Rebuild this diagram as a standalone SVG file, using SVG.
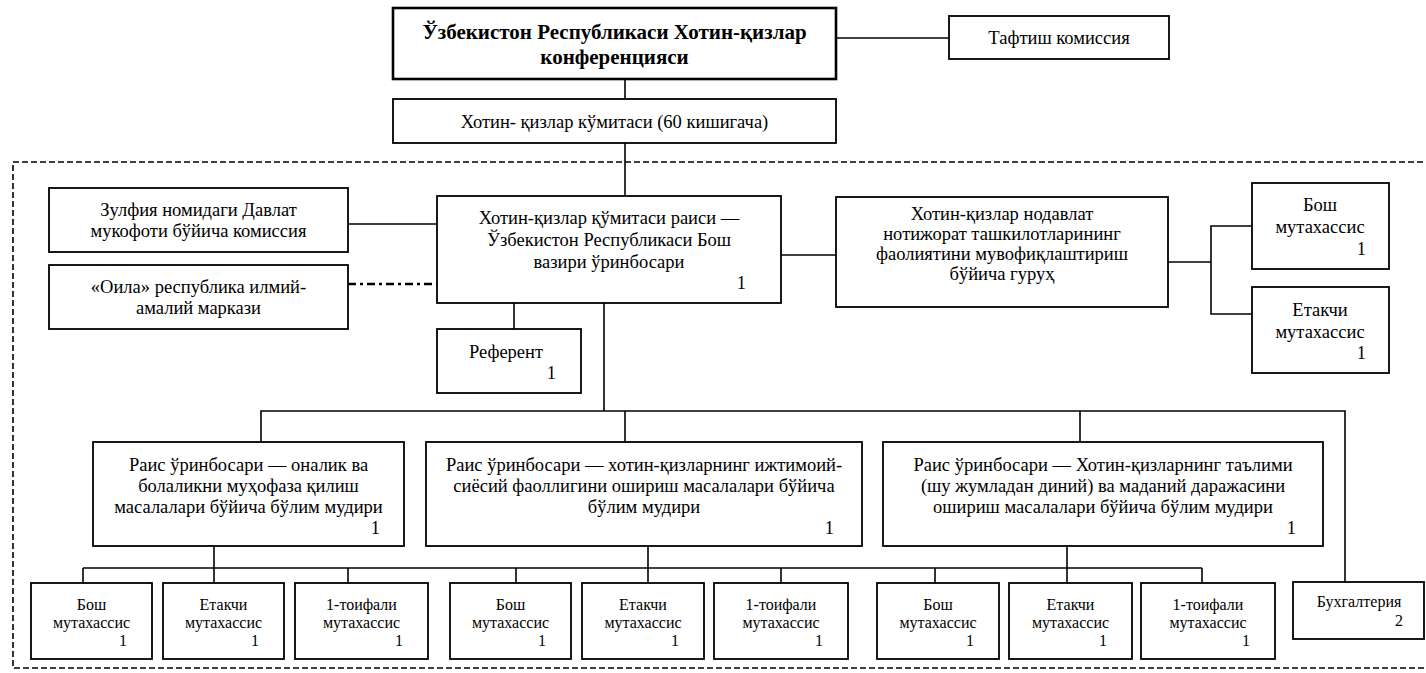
<svg xmlns="http://www.w3.org/2000/svg" width="1426" height="673" viewBox="0 0 1426 673">
<style>
.box{fill:#fff;stroke:#000;stroke-width:1.8}
.tbox{fill:#fff;stroke:#000;stroke-width:2.6}
.ln{fill:none;stroke:#000;stroke-width:1.6}
.dd{fill:none;stroke:#000;stroke-width:2.4;stroke-dasharray:8 4 3 4}
.frame{fill:none;stroke:#000;stroke-width:1.6;stroke-dasharray:6 3}
.t{font-size:18.5px;text-anchor:middle}
.tr{font-size:18.5px;text-anchor:end}
.s{font-size:16px;text-anchor:middle}
.sr{font-size:16px;text-anchor:end}
.b{font-size:21px;font-weight:bold;text-anchor:middle}
</style>
<rect class="frame" x="13" y="162" width="1420" height="506"/>
<g id="connectors">
<line class="ln" x1="836" y1="38" x2="949" y2="38"/>
<line class="ln" x1="625" y1="79" x2="625" y2="99"/>
<line class="ln" x1="625" y1="143" x2="625" y2="196"/>
<line class="ln" x1="348" y1="224" x2="437" y2="224"/>
<line class="dd" x1="348" y1="284" x2="437" y2="284"/>
<line class="ln" x1="514" y1="303" x2="514" y2="329"/>
<line class="ln" x1="781" y1="255" x2="836" y2="255"/>
<line class="ln" x1="1168" y1="262" x2="1211" y2="262"/>
<polyline class="ln" points="1252,226 1211,226 1211,314 1252,314"/>
<line class="ln" x1="604" y1="303" x2="604" y2="411"/>
<polyline class="ln" points="261,442 261,411 1345,411 1345,582"/>
<line class="ln" x1="625" y1="411" x2="625" y2="442"/>
<line class="ln" x1="1080" y1="411" x2="1080" y2="442"/>
<line class="ln" x1="83" y1="568" x2="1202" y2="568"/>
<line class="ln" x1="214" y1="546" x2="214" y2="583"/>
<line class="ln" x1="648" y1="546" x2="648" y2="583"/>
<line class="ln" x1="1067" y1="546" x2="1067" y2="583"/>
<line class="ln" x1="83" y1="568" x2="83" y2="583"/>
<line class="ln" x1="348" y1="568" x2="348" y2="583"/>
<line class="ln" x1="516" y1="568" x2="516" y2="583"/>
<line class="ln" x1="781" y1="568" x2="781" y2="583"/>
<line class="ln" x1="935" y1="568" x2="935" y2="583"/>
<line class="ln" x1="1202" y1="568" x2="1202" y2="583"/>
</g>
<g font-family="'Liberation Serif', 'Tinos', 'DejaVu Serif', serif" fill="#000">
<g id="conference">
<rect class="tbox" x="393" y="8" width="443" height="71"/>
<text class="b" x="614.5" y="39">Ўзбекистон Республикаси Хотин-қизлар</text>
<text class="b" x="614.5" y="64">конференцияси</text>
</g>
<g id="audit">
<rect class="box" x="949" y="16" width="220" height="43"/>
<text class="t" x="1059" y="44">Тафтиш комиссия</text>
</g>
<g id="committee">
<rect class="box" x="393" y="99" width="443" height="44"/>
<text class="t" x="614.5" y="128">Хотин- қизлар кўмитаси (60 кишигача)</text>
</g>
<g id="zulfiya">
<rect class="box" x="49" y="188" width="299" height="64"/>
<text class="t" x="198.5" y="216">Зулфия номидаги Давлат</text>
<text class="t" x="198.5" y="237">мукофоти бўйича комиссия</text>
</g>
<g id="oila">
<rect class="box" x="49" y="265" width="299" height="64"/>
<text class="t" x="198.5" y="293">«Оила» республика илмий-</text>
<text class="t" x="198.5" y="314">амалий маркази</text>
</g>
<g id="chairman">
<rect class="box" x="437" y="196" width="344" height="107"/>
<text class="t" x="609" y="224">Хотин-қизлар қўмитаси раиси —</text>
<text class="t" x="609" y="246">Ўзбекистон Республикаси Бош</text>
<text class="t" x="609" y="268">вазири ўринбосари</text>
<text class="tr" x="746" y="289">1</text>
</g>
<g id="referent">
<rect class="box" x="437" y="329" width="144" height="64"/>
<text class="t" x="506" y="358">Референт</text>
<text class="tr" x="556" y="379">1</text>
</g>
<g id="ngo">
<rect class="box" x="836" y="197" width="332" height="110"/>
<text class="t" x="1002" y="220">Хотин-қизлар нодавлат</text>
<text class="t" x="1002" y="240">нотижорат ташкилотларининг</text>
<text class="t" x="1002" y="260">фаолиятини мувофиқлаштириш</text>
<text class="t" x="1002" y="280">бўйича гуруҳ</text>
</g>
<g id="ngo-chief">
<rect class="box" x="1252" y="183" width="137" height="86"/>
<text class="t" x="1320" y="211">Бош</text>
<text class="t" x="1320" y="233">мутахассис</text>
<text class="tr" x="1366" y="255">1</text>
</g>
<g id="ngo-leading">
<rect class="box" x="1252" y="287" width="137" height="86"/>
<text class="t" x="1320" y="316">Етакчи</text>
<text class="t" x="1320" y="338">мутахассис</text>
<text class="tr" x="1366" y="359">1</text>
</g>
<g id="dept1">
<rect class="box" x="93" y="442" width="311" height="104"/>
<text class="t" x="248.5" y="471">Раис ўринбосари — оналик ва</text>
<text class="t" x="248.5" y="492">болаликни муҳофаза қилиш</text>
<text class="t" x="248.5" y="513">масалалари бўйича бўлим мудири</text>
<text class="tr" x="380" y="534">1</text>
</g>
<g id="dept2">
<rect class="box" x="426" y="442" width="436" height="104"/>
<text class="t" x="644" y="471">Раис ўринбосари — хотин-қизларнинг ижтимоий-</text>
<text class="t" x="644" y="492">сиёсий фаоллигини ошириш масалалари бўйича</text>
<text class="t" x="644" y="513">бўлим мудири</text>
<text class="tr" x="834" y="534">1</text>
</g>
<g id="dept3">
<rect class="box" x="883" y="442" width="440" height="104"/>
<text class="t" x="1103" y="471">Раис ўринбосари — Хотин-қизларнинг таълими</text>
<text class="t" x="1103" y="492">(шу жумладан диний) ва маданий даражасини</text>
<text class="t" x="1103" y="513">ошириш масалалари бўйича бўлим мудири</text>
<text class="tr" x="1296" y="534">1</text>
</g>
<g id="d1-chief">
<rect class="box" x="31" y="583" width="121" height="76"/>
<text class="s" x="91.5" y="610">Бош</text>
<text class="s" x="91.5" y="628">мутахассис</text>
<text class="sr" x="127" y="646">1</text>
</g>
<g id="d1-leading">
<rect class="box" x="163" y="583" width="121" height="76"/>
<text class="s" x="223.5" y="610">Етакчи</text>
<text class="s" x="223.5" y="628">мутахассис</text>
<text class="sr" x="259" y="646">1</text>
</g>
<g id="d1-first">
<rect class="box" x="295" y="583" width="133" height="76"/>
<text class="s" x="361.5" y="610">1-тоифали</text>
<text class="s" x="361.5" y="628">мутахассис</text>
<text class="sr" x="403" y="646">1</text>
</g>
<g id="d2-chief">
<rect class="box" x="450" y="583" width="121" height="76"/>
<text class="s" x="510.5" y="610">Бош</text>
<text class="s" x="510.5" y="628">мутахассис</text>
<text class="sr" x="546" y="646">1</text>
</g>
<g id="d2-leading">
<rect class="box" x="582" y="583" width="122" height="76"/>
<text class="s" x="643" y="610">Етакчи</text>
<text class="s" x="643" y="628">мутахассис</text>
<text class="sr" x="679" y="646">1</text>
</g>
<g id="d2-first">
<rect class="box" x="714" y="583" width="134" height="76"/>
<text class="s" x="781" y="610">1-тоифали</text>
<text class="s" x="781" y="628">мутахассис</text>
<text class="sr" x="823" y="646">1</text>
</g>
<g id="d3-chief">
<rect class="box" x="877" y="583" width="122" height="76"/>
<text class="s" x="938" y="610">Бош</text>
<text class="s" x="938" y="628">мутахассис</text>
<text class="sr" x="974" y="646">1</text>
</g>
<g id="d3-leading">
<rect class="box" x="1009" y="583" width="123" height="76"/>
<text class="s" x="1070.5" y="610">Етакчи</text>
<text class="s" x="1070.5" y="628">мутахассис</text>
<text class="sr" x="1107" y="646">1</text>
</g>
<g id="d3-first">
<rect class="box" x="1141" y="583" width="134" height="76"/>
<text class="s" x="1208" y="610">1-тоифали</text>
<text class="s" x="1208" y="628">мутахассис</text>
<text class="sr" x="1250" y="646">1</text>
</g>
<g id="accounting">
<rect class="box" x="1293" y="582" width="131" height="57"/>
<text class="s" x="1359" y="607">Бухгалтерия</text>
<text class="sr" x="1403" y="626">2</text>
</g>
</g>
</svg>
